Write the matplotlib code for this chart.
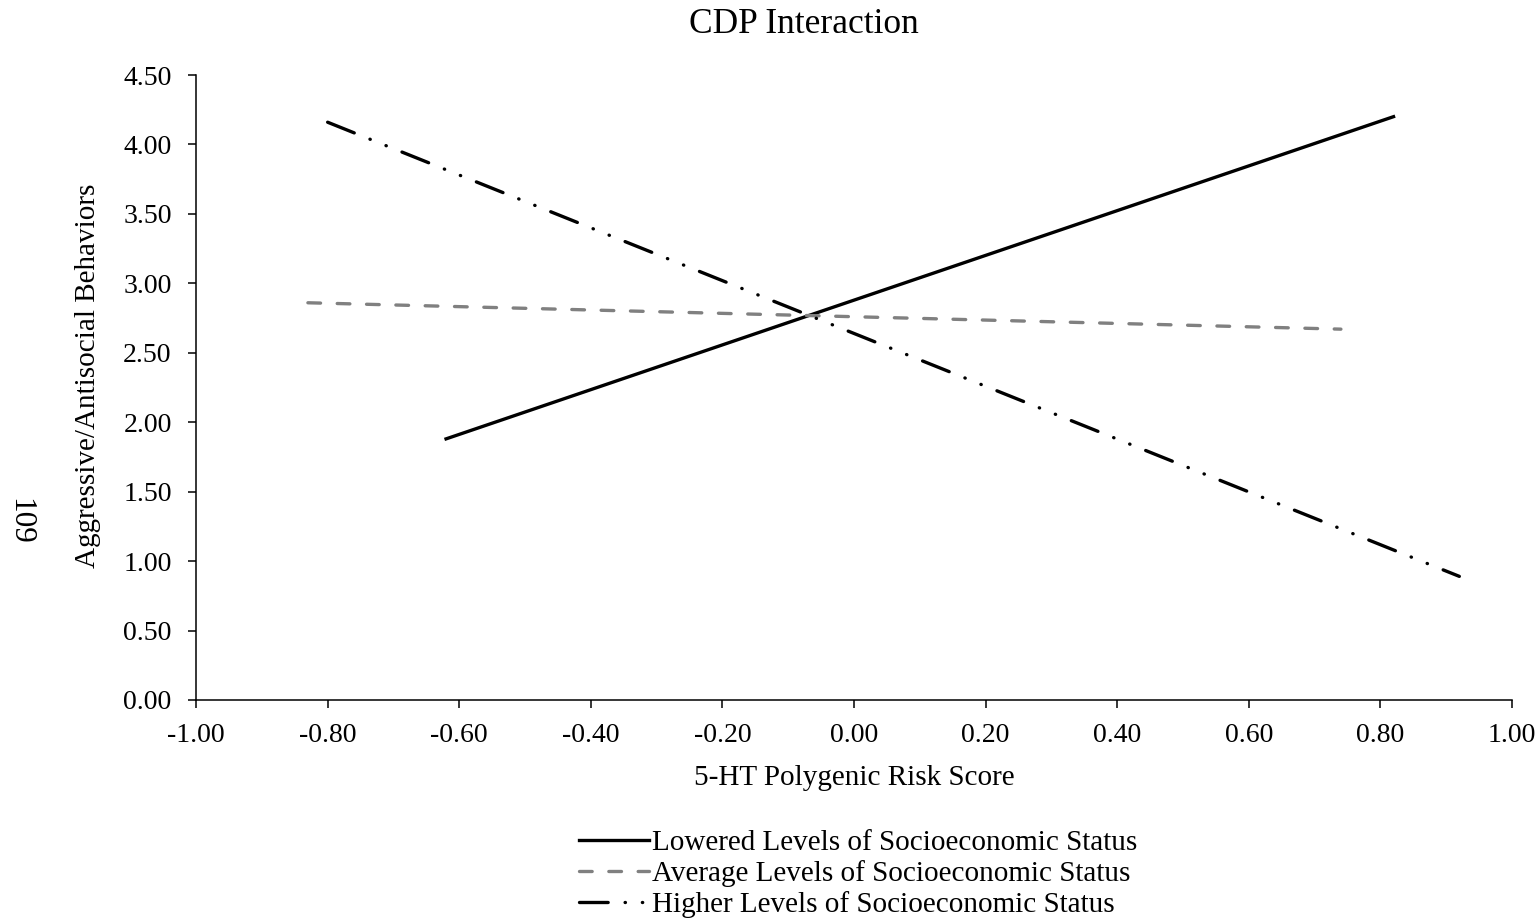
import matplotlib
matplotlib.use("Agg")
import matplotlib.pyplot as plt

plt.rcParams['font.family'] = ['Liberation Serif', 'DejaVu Serif']

# endpoints of the three simple slopes
x_lowered = [-0.62, 0.82]
y_lowered = [1.88, 4.20]
x_average = [-0.83, 0.74]
y_average = [2.86, 2.67]
x_higher = [-0.80, 0.92]
y_higher = [4.16, 0.89]

labels = ["Lowered Levels of Socioeconomic Status",
          "Average Levels of Socioeconomic Status",
          "Higher Levels of Socioeconomic Status"]

x_ticks = [-1.0, -0.8, -0.6, -0.4, -0.2, 0.0, 0.2, 0.4, 0.6, 0.8, 1.0]
y_ticks = [0.0, 0.5, 1.0, 1.5, 2.0, 2.5, 3.0, 3.5, 4.0, 4.5]

fig = plt.figure(figsize=(15.4, 9.18), dpi=100)
ax = fig.add_axes([0.1273, 0.2375, 0.8545, 0.6808])

ax.plot(x_lowered, y_lowered, color='black', lw=2.4, label=labels[0])
ax.plot(x_average, y_average, color='#808080', lw=2.4,
        linestyle=(0, (3.8, 5.0)), dash_capstyle='round', label=labels[1])
ax.plot(x_higher, y_higher, color='black', lw=2.4,
        linestyle=(0, (8.6, 5.08, 0.1, 5.08, 0.1, 5.08)), dash_capstyle='round',
        label=labels[2])

ax.set_xlim(-1.0, 1.0)
ax.set_ylim(0.0, 4.5)
ax.set_xticks(x_ticks)
ax.set_yticks(y_ticks)
ax.set_xticklabels([f"{v:.2f}" for v in x_ticks])
ax.set_yticklabels([f"{v:.2f}" for v in y_ticks])
ax.tick_params(labelsize=20, length=5.5, width=1.1, direction='out')
ax.tick_params(axis='x', pad=11)
ax.tick_params(axis='y', pad=12)

for s in ['top', 'right']:
    ax.spines[s].set_visible(False)
for s in ['left', 'bottom']:
    ax.spines[s].set_linewidth(1.1)

ax.set_xlabel("5-HT Polygenic Risk Score", fontsize=21, labelpad=12)
ax.set_ylabel("Aggressive/Antisocial Behaviors", fontsize=21, labelpad=16)
ax.yaxis.label.set_y(0.518)

fig.text(0.522, 0.973, "CDP Interaction", fontsize=25.5, ha='center', va='center')
fig.text(0.0125, 0.432, "109", fontsize=22.5, rotation=-90, ha='center', va='center')

leg = fig.legend(loc='center', bbox_to_anchor=(0.557, 0.048), frameon=False,
                 fontsize=21, handlelength=2.4, handletextpad=0.1,
                 labelspacing=0.14, borderpad=0)

fig.savefig("out.png", dpi=100)
